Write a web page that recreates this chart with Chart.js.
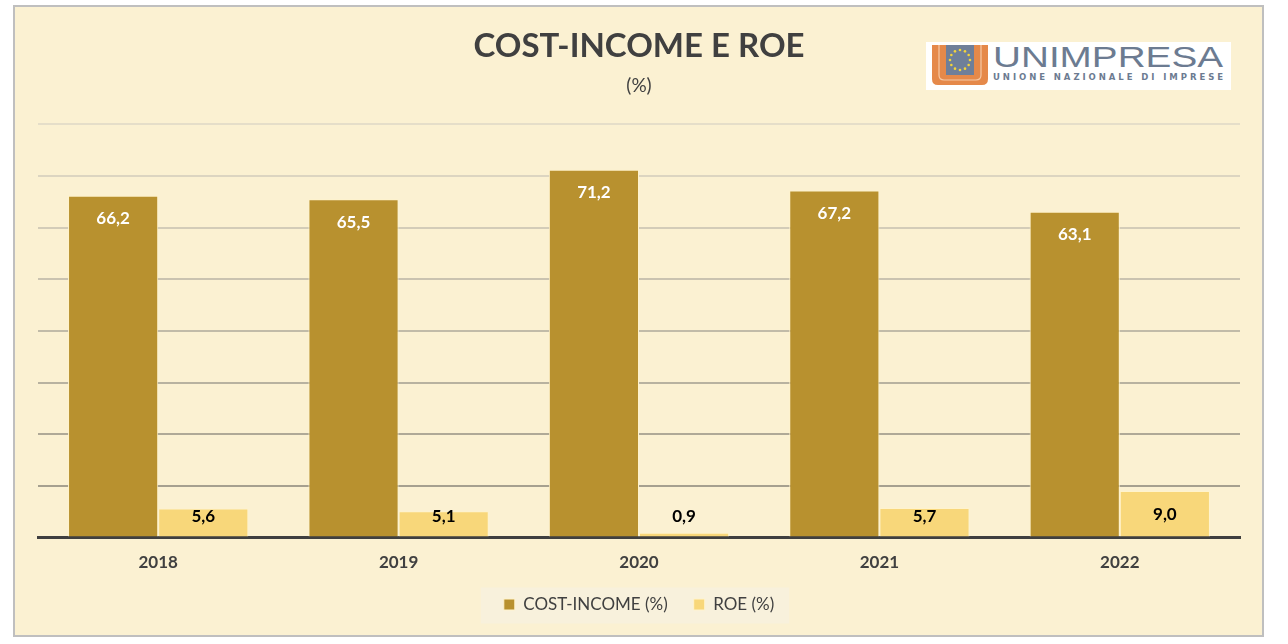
<!DOCTYPE html>
<html lang="it">
<head>
<meta charset="utf-8">
<title>Cost-income e ROE</title>
<script src="https://cdn.jsdelivr.net/npm/chart.js@4.4.1/dist/chart.umd.min.js"></script>
<style>
  html, body { margin: 0; padding: 0; background: #fff; }
  body { width: 1288px; height: 644px; position: relative; overflow: hidden; font-family: Lato, sans-serif; }
  .moldura { position: absolute; left: 13px; top: 5px; width: 1247px; height: 628px; border: 2px solid #BFBFBF; background: #FBF1D2; }
  .logo { position: absolute; left: 926px; top: 42px; width: 305px; height: 48px; background: #fff; }
</style>
</head>
<body>
<div class="moldura"><canvas id="grafico" width="1247" height="628"></canvas></div>
<div class="logo">
  <svg width="305" height="48" viewBox="0 0 305 48">
    <path d="M6 3 H20 V33 H48 V3 H62 V37 Q62 43 56 43 H12 Q6 43 6 37 Z" fill="#E5894A"/>
    <path d="M13 3 V33 Q13 38 18 38 H50 Q55 38 55 33 V3" fill="none" stroke="#F6C9A6" stroke-width="1.2"/>
    <rect x="20" y="3" width="28" height="30" fill="#6F7F99"/>
    <g id="estrelas"></g>
    <text x="67" y="25" font-family="Liberation Sans, Arial, sans-serif" font-size="30" fill="#6C7B91" textLength="230" lengthAdjust="spacingAndGlyphs">UNIMPRESA</text>
    <text x="67" y="38" font-family="DejaVu Sans, sans-serif" font-weight="bold" font-size="8.5" fill="#6C7B91" textLength="230" lengthAdjust="spacing">UNIONE NAZIONALE DI IMPRESE</text>
  </svg>
</div>
<script>
// Dados do gráfico
const anos = ['2018', '2019', '2020', '2021', '2022'];
const costIncome = [66.2, 65.5, 71.2, 67.2, 63.1];
const roe = [5.6, 5.1, 0.9, 5.7, 9.0];
const nomesSeries = ['COST-INCOME (%)', 'ROE (%)'];
const escalaY = { min: 0, max: 80, passo: 10 };

// Cores e fontes
const cores = {
  costIncome: '#B8912F',
  roe: '#F8D77A',
  borda: '#FFF3CC',
  texto: '#404040',
  eixo: '#3F3F3F',
  fundoLegenda: '#F8F1DC'
};
const fonte = 'Lato, sans-serif';

// Estrelas do logo
const grupoEstrelas = document.getElementById('estrelas');
for (let i = 0; i < 12; i++) {
  const ang = i * Math.PI / 6;
  const c = document.createElementNS('http://www.w3.org/2000/svg', 'circle');
  c.setAttribute('cx', 34 + 10 * Math.cos(ang));
  c.setAttribute('cy', 18 + 10 * Math.sin(ang));
  c.setAttribute('r', 1.3);
  c.setAttribute('fill', '#F3D43C');
  grupoEstrelas.appendChild(c);
}

function formatarValor(v) {
  return v.toFixed(1).replace('.', ',');
}

// Cor das linhas de grade: mais escuras em baixo
function corGrade(valor) {
  if (valor === 0) return 'rgba(0,0,0,0)';
  const t = (valor - 10) / 70;
  const escuro = [166, 160, 143], claro = [229, 222, 201];
  const c = escuro.map((e, k) => Math.round(e + (claro[k] - e) * t));
  return `rgb(${c[0]},${c[1]},${c[2]})`;
}

// Rótulos de dados dentro das barras
const pluginRotulos = {
  id: 'rotulos',
  afterDatasetsDraw(chart) {
    const ctx = chart.ctx;
    ctx.save();
    ctx.font = `bold 17px ${fonte}`;
    ctx.textAlign = 'center';
    ctx.textBaseline = 'middle';
    chart.data.datasets.forEach((ds, i) => {
      chart.getDatasetMeta(i).data.forEach((barra, j) => {
        const y = Math.min(barra.y + 23, barra.base - 20);
        ctx.fillStyle = i === 0 ? '#FFFFFF' : '#000000';
        ctx.fillText(formatarValor(ds.data[j]), barra.x, y);
      });
    });
    ctx.restore();
  }
};

// Fundo da legenda
const pluginFundoLegenda = {
  id: 'fundoLegenda',
  beforeDraw(chart) {
    const caixas = chart.legend && chart.legend.legendHitBoxes;
    if (!caixas || !caixas.length) return;
    const esq = Math.min(...caixas.map(c => c.left)) - 23;
    const dir = Math.max(...caixas.map(c => c.left + c.width)) + 15;
    const centro = caixas[0].top + caixas[0].height / 2;
    const ctx = chart.ctx;
    ctx.save();
    ctx.fillStyle = cores.fundoLegenda;
    ctx.fillRect(esq, centro - 17, dir - esq, 36);
    ctx.restore();
  }
};

const config = {
  type: 'bar',
  data: {
    labels: anos,
    datasets: [
      {
        label: nomesSeries[0],
        data: costIncome,
        backgroundColor: cores.costIncome,
        borderColor: cores.borda,
        borderWidth: 1
      },
      {
        label: nomesSeries[1],
        data: roe,
        backgroundColor: cores.roe,
        borderColor: cores.borda,
        borderWidth: 1
      }
    ]
  },
  options: {
    responsive: false,
    animation: false,
    layout: { padding: { left: 23, right: 22, top: 0, bottom: 12 } },
    datasets: {
      bar: { categoryPercentage: 0.75, barPercentage: 1.0 }
    },
    plugins: {
      title: {
        display: true,
        text: 'COST-INCOME E ROE',
        color: cores.texto,
        font: { family: fonte, size: 33, weight: 'bold' },
        padding: { top: 20, bottom: 0 }
      },
      subtitle: {
        display: true,
        text: '(%)',
        color: cores.texto,
        font: { family: fonte, size: 19 },
        padding: { top: 8, bottom: 27 }
      },
      legend: {
        position: 'bottom',
        labels: {
          color: cores.texto,
          font: { family: fonte, size: 17 },
          boxWidth: 11,
          boxHeight: 11,
          padding: 26
        }
      },
      tooltip: { enabled: false }
    },
    scales: {
      x: {
        clip: false,
        grid: { display: false, drawTicks: false },
        border: { display: true, color: cores.eixo, width: 3 },
        ticks: {
          color: cores.texto,
          font: { family: fonte, size: 17, weight: 'bold' },
          padding: 15
        },
        // eixo mais baixo para aproximar a legenda
        afterFit: escala => { escala.height = 32.5; }
      },
      y: {
        min: escalaY.min,
        max: escalaY.max,
        ticks: { display: false, stepSize: escalaY.passo },
        border: { display: false },
        grid: {
          drawTicks: false,
          lineWidth: 2,
          color: ctx => corGrade(ctx.tick.value)
        }
      }
    }
  },
  plugins: [pluginFundoLegenda, pluginRotulos]
};

document.addEventListener('DOMContentLoaded', () => {
  const ctx = document.getElementById('grafico').getContext('2d');
  new Chart(ctx, config);
});
</script>
</body>
</html>
